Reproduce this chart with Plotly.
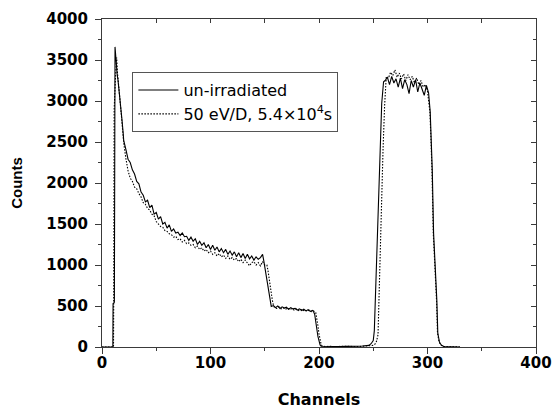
import plotly.graph_objects as go

# ---- data ----
ch_solid = [0, 10, 10.2, 11.4, 12, 12.7, 13.3, 14, 14.7, 15.3, 16, 16.7, 17.5, 18.5, 19.5,
            20, 22, 24, 26, 28, 30, 32, 34, 36, 38, 40, 42, 44, 46, 48, 50, 52, 54, 56, 58,
            60, 62, 64, 66, 68, 70, 72, 74, 76, 78, 80, 82, 84, 86, 88, 90, 92, 94, 96, 98,
            100, 102, 104, 106, 108, 110, 112, 114, 116, 118, 120, 122, 124, 126, 128, 130,
            132, 134, 136, 138, 140, 142, 144, 146, 148,
            149, 150, 151, 152, 153, 154, 155, 156,
            158, 160, 162, 164, 166, 168, 170, 172, 174, 176, 178, 180, 182, 184, 186, 188,
            190, 192, 194, 195, 196, 197, 198, 199, 200, 201, 202,
            205, 210, 215, 220, 225, 230, 235, 240, 244, 246, 248,
            250, 251, 252, 253, 254.2, 255.2, 256.4, 257.8, 259.5,
            261, 263, 265, 267, 269, 271, 273, 275, 277, 279, 281, 283, 285, 287, 289, 291,
            293, 295, 297, 299, 301,
            302.5, 303.4, 304.4, 305.6, 307.4, 308.6, 309.5, 311, 312.6, 315, 330]
cnt_solid = [0, 0, 530, 545, 3660, 3520, 3420, 3320, 3260, 3190, 3060, 2980, 2890, 2760, 2610,
             2520, 2410, 2290, 2250, 2160, 2110, 2020, 1990, 1890, 1850, 1770, 1790, 1700, 1730, 1620,
             1640, 1560, 1590, 1500, 1520, 1450, 1490, 1410, 1440, 1390, 1400, 1360, 1390, 1345, 1350,
             1300, 1340, 1290, 1320, 1250, 1290, 1240, 1270, 1210, 1250, 1190, 1240, 1180, 1220, 1160,
             1200, 1150, 1190, 1130, 1170, 1120, 1160, 1100, 1150, 1090, 1140, 1080, 1130, 1075, 1110,
             1060, 1100, 1070, 1090, 1130,
             1060, 980, 900, 820, 735, 650, 560, 495,
             505, 480, 500, 470, 490, 475, 485, 460, 480, 465, 470, 450, 465, 445, 460, 440,
             455, 435, 445, 430, 400, 330, 220, 130, 60, 25, 10,
             8, 5, 10, 5, 8, 5, 10, 12, 15, 20, 40,
             80, 200, 570, 900, 1345, 1895, 2400, 2970, 3235,
             3250, 3290, 3200, 3300, 3220, 3270, 3170, 3280, 3150, 3260, 3200, 3090, 3250, 3170,
             3260, 3110, 3220, 3140, 3070, 3190, 3100,
             2870, 2565, 2160, 1390, 980, 570, 170, 60, 25, 5, 0]

ch_irr = [0, 10.6, 10.8, 11.2, 12.5, 13.5, 14.2, 15, 16, 17, 18, 19,
          20, 22, 24, 26, 28, 30, 32, 34, 36, 38, 40, 42, 44, 46, 48, 50, 52, 54, 56, 58,
          60, 62, 64, 66, 68, 70, 72, 74, 76, 78, 80, 82, 84, 86, 88, 90, 92, 94, 96, 98,
          100, 102, 104, 106, 108, 110, 112, 114, 116, 118, 120, 122, 124, 126, 128, 130,
          132, 134, 136, 138, 140, 142, 144, 146, 148, 150,
          152, 153, 154, 155, 156, 157, 158, 159,
          161, 163, 165, 167, 169, 171, 173, 175, 177, 179, 181, 183, 185, 187, 189, 191,
          193, 195, 197, 198, 199, 200, 201, 202, 203,
          206, 211, 216, 221, 226, 231, 236, 241, 245, 248, 250,
          252, 253, 254.4, 255.2, 256, 257, 258.1, 259, 260.5, 262,
          264, 266, 268, 270, 272, 274, 276, 278, 280, 282, 284, 286, 288, 290, 292, 294,
          296, 298, 300,
          302.2, 303.1, 304.1, 305.3, 307.1, 308.3, 309.2, 310.7, 312.3, 315, 330]
cnt_irr = [0, 0, 600, 2900, 3300, 3530, 3350, 3200, 3100, 2950, 2800, 2650,
           2490, 2300, 2150, 2060, 2020, 1950, 1930, 1870, 1830, 1760, 1740, 1690, 1670, 1620,
           1600, 1530, 1500, 1470, 1460, 1420, 1410, 1380, 1370, 1340, 1350, 1310, 1320, 1280,
           1300, 1260, 1270, 1240, 1250, 1210, 1230, 1190, 1210, 1170, 1190, 1150,
           1170, 1130, 1150, 1110, 1140, 1100, 1120, 1080, 1110, 1070, 1090, 1060, 1080, 1040,
           1070, 1030, 1060, 1020, 990, 1030, 1040, 1000, 1030, 990, 1040, 1000,
           1000, 930, 830, 740, 650, 570, 510, 480,
           470, 490, 465, 480, 460, 475, 455, 470, 450, 465, 445, 460, 440, 455, 435, 450,
           430, 440, 420, 360, 260, 160, 80, 30, 12,
           6, 8, 4, 10, 6, 8, 5, 10, 12, 15, 20,
           40, 70, 150, 570, 1180, 1700, 2100, 2400, 2950, 3300,
           3280, 3350, 3310, 3380, 3290, 3340, 3270, 3330, 3250, 3320, 3260, 3300, 3220, 3280,
           3200, 3250, 3170, 3200, 3120,
           2870, 2565, 2160, 1390, 980, 570, 170, 60, 25, 5, 0]

label_solid = "un-irradiated"
label_irr = "50 eV/D, 5.4×10<sup>4</sup>s"

x_ticks = [0, 100, 200, 300, 400]
y_ticks = [0, 500, 1000, 1500, 2000, 2500, 3000, 3500, 4000]

axis_col = "#3a3a3a"
tick_font = dict(family="DejaVu Sans", size=15, color="black", weight="bold")

fig = go.Figure()
fig.add_trace(go.Scatter(x=ch_solid, y=cnt_solid, mode="lines", name=label_solid,
                         line=dict(color="black", width=1.1)))
fig.add_trace(go.Scatter(x=ch_irr, y=cnt_irr, mode="lines", name=label_irr,
                         line=dict(color="black", width=1.1, dash="1.5px,1.5px")))
# carrier trace for the mirrored (inward-tick) axes
fig.add_trace(go.Scatter(x=[0], y=[0], xaxis="x2", yaxis="y2", mode="lines",
                         line=dict(width=0), showlegend=False, hoverinfo="skip", opacity=0))

fig.update_layout(
    width=552, height=409,
    margin=dict(l=102, r=16, t=19, b=62),
    paper_bgcolor="white", plot_bgcolor="white",
    showlegend=True,
    legend=dict(x=0.07, y=0.838, xanchor="left", yanchor="top",
                bordercolor="#555555", borderwidth=1, bgcolor="white",
                font=dict(family="DejaVu Sans", size=16, color="black"),
                itemwidth=40, tracegroupgap=0),
    xaxis=dict(range=[0, 400], tickvals=x_ticks, ticks="outside", ticklen=6, tickwidth=1,
               tickcolor=axis_col, showline=True, linecolor=axis_col, linewidth=1,
               mirror=True, showgrid=False, zeroline=False, tickfont=tick_font, automargin=False,
               ticklabelstandoff=-4,
               minor=dict(dtick=50, ticks="outside", ticklen=3, tickcolor=axis_col),
               title=dict(text="Channels", standoff=22,
                          font=dict(family="DejaVu Sans", size=16, color="black", weight="bold"))),
    yaxis=dict(range=[0, 4000], tickvals=y_ticks, ticks="outside", ticklen=6, tickwidth=1,
               tickcolor=axis_col, showline=True, linecolor=axis_col, linewidth=1,
               mirror=True, showgrid=False, zeroline=False, tickfont=tick_font, automargin=False,
               ticklabelstandoff=4,
               minor=dict(dtick=250, ticks="outside", ticklen=3, tickcolor=axis_col),
               title=dict(text="Counts", standoff=20,
                          font=dict(family="Liberation Sans", size=15, color="black", weight="bold"))),
    xaxis2=dict(range=[0, 400], overlaying="x", side="top", dtick=50, tick0=0, automargin=False,
                ticks="inside", ticklen=4, tickcolor=axis_col, showticklabels=False,
                showline=False, showgrid=False, zeroline=False),
    yaxis2=dict(range=[0, 4000], overlaying="y", side="right", dtick=500, tick0=0, automargin=False,
                ticks="inside", ticklen=5, tickcolor=axis_col, showticklabels=False,
                showline=False, showgrid=False, zeroline=False,
                minor=dict(dtick=250, ticks="inside", ticklen=3, tickcolor=axis_col)),
)

fig.write_html("out.html")
